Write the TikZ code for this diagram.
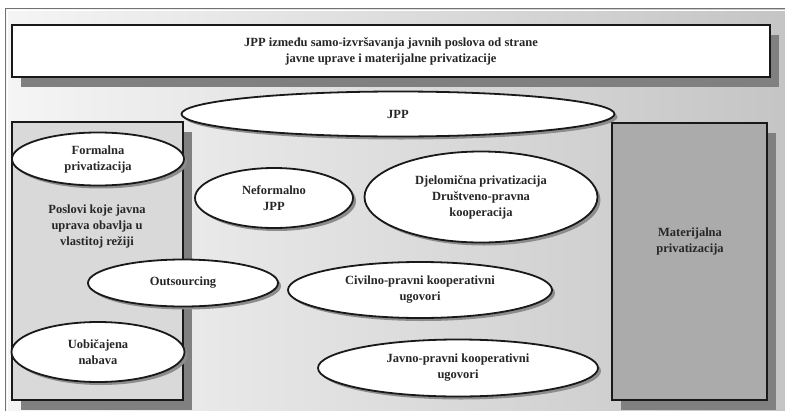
\documentclass[tikz,border=0pt]{standalone}
\usepackage{fontspec}
\setmainfont{Liberation Serif}
\usetikzlibrary{shapes.geometric,shadows}
\begin{document}
\begin{tikzpicture}[x=1pt,y=-1pt,
  txt/.style={font=\bfseries\fontsize{12.5}{16}\selectfont, text=black!85, align=center},
  boxsh/.style={drop shadow={shadow xshift=9pt, shadow yshift=-10pt, fill=black!50, opacity=1}},
  ellsh/.style={drop shadow={shadow xshift=3pt, shadow yshift=-3pt, fill=black!45, opacity=1}},
  bigbox/.style={draw=black!90, line width=2.6pt, inner sep=0pt, boxsh},
  oval/.style={ellipse, draw=black!90, line width=1.8pt, fill=white, inner sep=0pt, ellsh, txt}
]
\useasboundingbox (0,0) rectangle (785,410);
\begin{scope}
\clip (0,0) rectangle (785,410);
\fill[white] (0,0) rectangle (785,410);
\shade[left color=black!4, right color=black!23] (5,8) rectangle (792,418);
\draw[black!55, line width=0.8pt] (5,8) rectangle (792,418);
\draw[white, line width=0.8pt] (7,10) rectangle (790,416);

% title
\node[bigbox, fill=white, minimum width=758pt, minimum height=52pt, txt] (title) at (391,51)
  {JPP između samo-izvršavanja javnih poslova od strane\\javne uprave i materijalne privatizacije};

% left and right boxes
\node[bigbox, fill=black!15, minimum width=171pt, minimum height=278pt] (left) at (97.5,261) {};
\node[bigbox, fill=black!33, minimum width=155pt, minimum height=277pt] (right) at (689.5,261.5) {};
\node[txt] (lefttext) at (97,226) {Poslovi koje javna\\uprava obavlja u\\vlastitoj režiji};
\node[txt] (righttext) at (690,241) {Materijalna\\privatizacija};

% ellipses
\node[oval, minimum width=433pt, minimum height=45pt] (jpp) at (398,114) {JPP};
\node[oval, minimum width=172pt, minimum height=53pt] (formal) at (98,159) {Formalna\\privatizacija};
\node[oval, minimum width=158pt, minimum height=60pt] (neform) at (274,198) {Neformalno\\JPP};
\node[oval, minimum width=233pt, minimum height=91pt] (djel) at (481,197) {Djelomična privatizacija\\Društveno-pravna\\kooperacija};
\node[oval, minimum width=190pt, minimum height=47pt] (outs) at (183,283) {Outsourcing};
\node[oval, minimum width=264pt, minimum height=56pt] (civil) at (420,290) {Civilno-pravni kooperativni\\ugovori};
\node[oval, minimum width=173pt, minimum height=60pt] (uobic) at (98,352) {Uobičajena\\nabava};
\node[oval, minimum width=280pt, minimum height=57pt] (javno) at (458,368) {Javno-pravni kooperativni\\ugovori};
\end{scope}
\end{tikzpicture}
\end{document}
